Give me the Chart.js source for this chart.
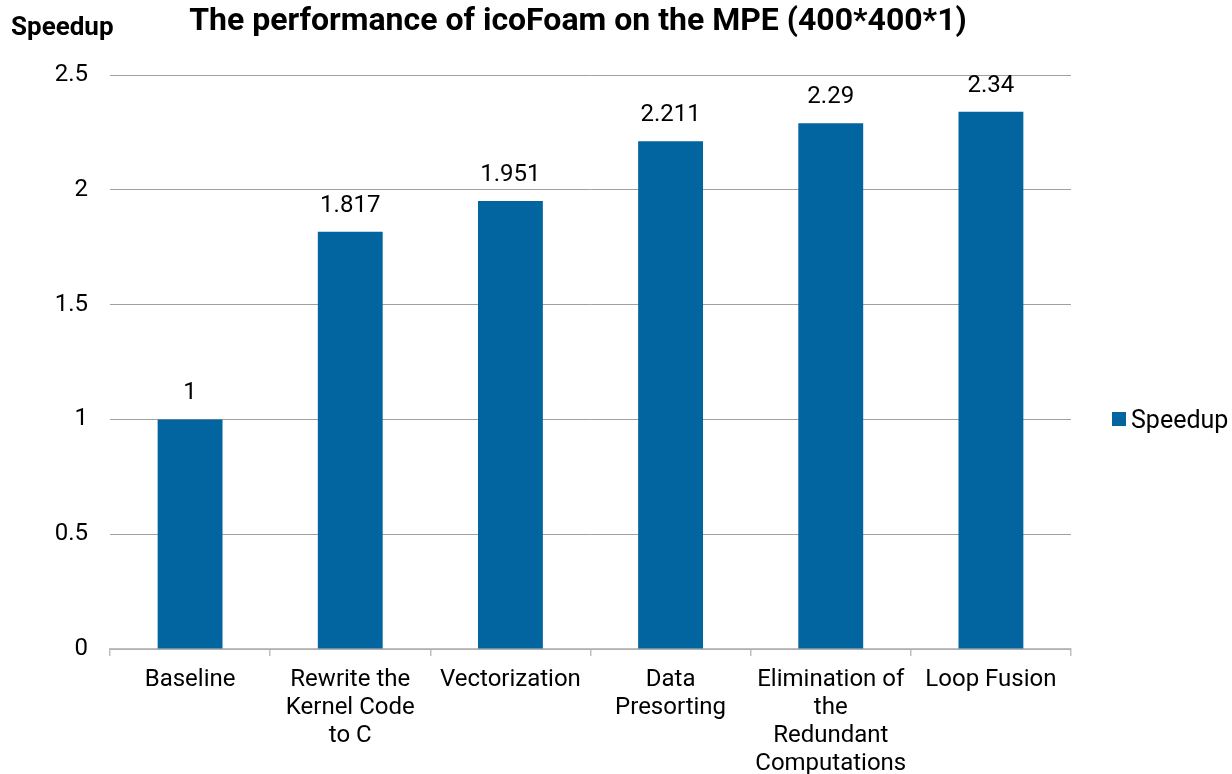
<!DOCTYPE html>
<html>
<head>
<meta charset="utf-8">
<title>icoFoam speedup on the MPE</title>
<script src="https://cdn.jsdelivr.net/npm/chart.js@4.4.1/dist/chart.umd.min.js"></script>
<style>
  html, body { margin: 0; padding: 0; background: #ffffff; }
  #wrap { width: 1232px; height: 774px; }
</style>
</head>
<body>
<div id="wrap"><canvas id="chart" width="1232" height="774"></canvas></div>
<script>
// Optimisation steps (multi-line category labels)
const categories = [
  ['Baseline'],
  ['Rewrite the', 'Kernel Code', 'to C'],
  ['Vectorization'],
  ['Data', 'Presorting'],
  ['Elimination of', 'the', 'Redundant', 'Computations'],
  ['Loop Fusion']
];
// Speedup relative to the baseline
const speedup = [1, 1.817, 1.951, 2.211, 2.29, 2.34];
const speedupLabels = ['1', '1.817', '1.951', '2.211', '2.29', '2.34'];
const yTickValues = [0, 0.5, 1, 1.5, 2, 2.5];

const FONT = 'Roboto, "Liberation Sans", sans-serif';
const BAR_COLOR = '#02659f';

// Title, axis caption, legend entry and value labels drawn on the canvas
const annotations = {
  id: 'annotations',
  afterDraw(chart) {
    const ctx = chart.ctx;
    const ds = chart.data.datasets[0];
    ctx.save();
    ctx.fillStyle = '#000000';
    ctx.textBaseline = 'alphabetic';

    ctx.textAlign = 'center';
    ctx.font = 'bold 32px ' + FONT;
    ctx.fillText('The performance of icoFoam on the MPE (400*400*1)', 578, 30);

    ctx.textAlign = 'left';
    ctx.font = 'bold 26px ' + FONT;
    ctx.fillText('Speedup', 11, 35);

    // legend entry to the right of the plot
    ctx.fillStyle = ds.backgroundColor;
    ctx.fillRect(1112, 412, 14, 14);
    ctx.fillStyle = '#000000';
    ctx.font = '25px ' + FONT;
    ctx.fillText(ds.label, 1131, 428);

    // value above each bar
    const meta = chart.getDatasetMeta(0);
    ctx.textAlign = 'center';
    ctx.font = '24px ' + FONT;
    meta.data.forEach((bar, i) => {
      ctx.fillText(speedupLabels[i], bar.x, bar.y - 20);
    });
    ctx.restore();
  }
};

new Chart(document.getElementById('chart'), {
  type: 'bar',
  data: {
    labels: categories,
    datasets: [{
      label: 'Speedup',
      data: speedup,
      backgroundColor: BAR_COLOR,
      borderWidth: 0,
      categoryPercentage: 1.0,
      barPercentage: 0.405
    }]
  },
  options: {
    responsive: false,
    devicePixelRatio: 1,
    animation: false,
    layout: { padding: { top: 75, right: 161, left: 0, bottom: 0 } },
    plugins: {
      title: { display: false },
      tooltip: { enabled: false },
      legend: { display: false }
    },
    scales: {
      x: {
        offset: true,
        afterFit(scale) { scale.height = 125; },
        grid: {
          offset: true,
          drawOnChartArea: false,
          drawTicks: true,
          tickLength: 7,
          color: '#bfbfbf',
          lineWidth: 1.5
        },
        border: { display: true, color: '#bfbfbf', width: 1.5 },
        ticks: {
          color: '#000000',
          font: { family: FONT, size: 24, lineHeight: 1.17 },
          padding: 10,
          maxRotation: 0,
          minRotation: 0,
          autoSkip: false
        }
      },
      y: {
        min: 0,
        max: 2.5,
        afterBuildTicks(scale) {
          scale.ticks = yTickValues.map(v => ({ value: v }));
        },
        afterFit(scale) { scale.width = 110; },
        grid: {
          color: '#a0a0a0',
          lineWidth: 1,
          drawTicks: false
        },
        border: { display: false },
        ticks: {
          color: '#000000',
          font: { family: FONT, size: 24 },
          padding: 22,
          callback: v => String(v)
        }
      }
    }
  },
  plugins: [annotations]
});
</script>
</body>
</html>
